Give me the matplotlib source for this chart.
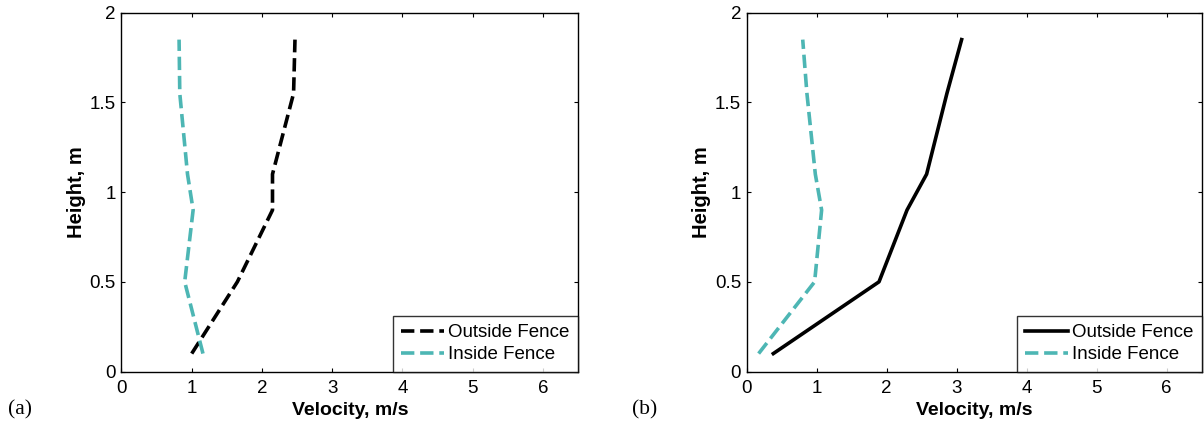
import matplotlib
matplotlib.use("Agg")
import matplotlib.pyplot as plt
from matplotlib.ticker import FuncFormatter

# Measurement heights (m)
heights = [0.1, 0.5, 0.9, 1.1, 1.55, 1.85]

# (a) velocity profiles, m/s
outside_a = [1.0, 1.65, 2.15, 2.15, 2.45, 2.47]
inside_a = [1.16, 0.9, 1.02, 0.94, 0.83, 0.82]

# (b) velocity profiles, m/s
outside_b = [0.38, 1.89, 2.29, 2.57, 2.86, 3.07]
inside_b = [0.17, 0.97, 1.07, 0.98, 0.86, 0.80]

x_ticks = [0, 1, 2, 3, 4, 5, 6]
y_ticks = [0, 0.5, 1, 1.5, 2]
panel_tags = ["(a)", "(b)"]

TEAL = "#4db6b4"
plt.rcParams["font.family"] = ["Liberation Sans", "DejaVu Sans"]

fig = plt.figure(figsize=(12.04, 4.29), dpi=100)
ax_a = fig.add_axes([0.1009, 0.134, 0.3792, 0.8364])
ax_b = fig.add_axes([0.6202, 0.134, 0.3779, 0.8364])

fmt = FuncFormatter(lambda v, p: f"{v:g}")

panels = [
    (ax_a, outside_a, inside_a, "--"),
    (ax_b, outside_b, inside_b, "-"),
]
for ax, outside, inside, out_style in panels:
    ax.plot(outside, heights, color="black", linestyle=out_style, lw=2.6,
            label="Outside Fence")
    ax.plot(inside, heights, color=TEAL, linestyle="--", lw=2.6,
            label="Inside Fence")
    ax.set_xlim(0, 6.5)
    ax.set_ylim(0, 2)
    ax.set_xticks(x_ticks)
    ax.set_yticks(y_ticks)
    ax.yaxis.set_major_formatter(fmt)
    ax.tick_params(direction="in", length=3, width=0.8, top=True, right=True,
                   labelsize=13.5)
    ax.tick_params(axis="x", pad=6)
    ax.tick_params(axis="y", pad=4)
    for s in ax.spines.values():
        s.set_linewidth(1.0)
    ax.set_xlabel("Velocity, m/s", fontsize=14, fontweight="bold", labelpad=4)
    ax.set_ylabel("Height, m", fontsize=14.5, fontweight="bold", labelpad=3)
    leg = ax.legend(loc="lower right", borderaxespad=0, fontsize=13.5,
                    frameon=True, fancybox=False, handlelength=2.3,
                    handletextpad=0.2, borderpad=0.45, labelspacing=0.25)
    leg.get_frame().set_edgecolor("black")
    leg.get_frame().set_linewidth(1.0)

fig.text(8 / 1204, 1 - 410 / 429, panel_tags[0], fontsize=15.5,
         family=["Liberation Serif", "DejaVu Serif"], va="center", ha="left")
fig.text(632 / 1204, 1 - 410 / 429, panel_tags[1], fontsize=15.5,
         family=["Liberation Serif", "DejaVu Serif"], va="center", ha="left")

fig.savefig("out.png", dpi=100)
